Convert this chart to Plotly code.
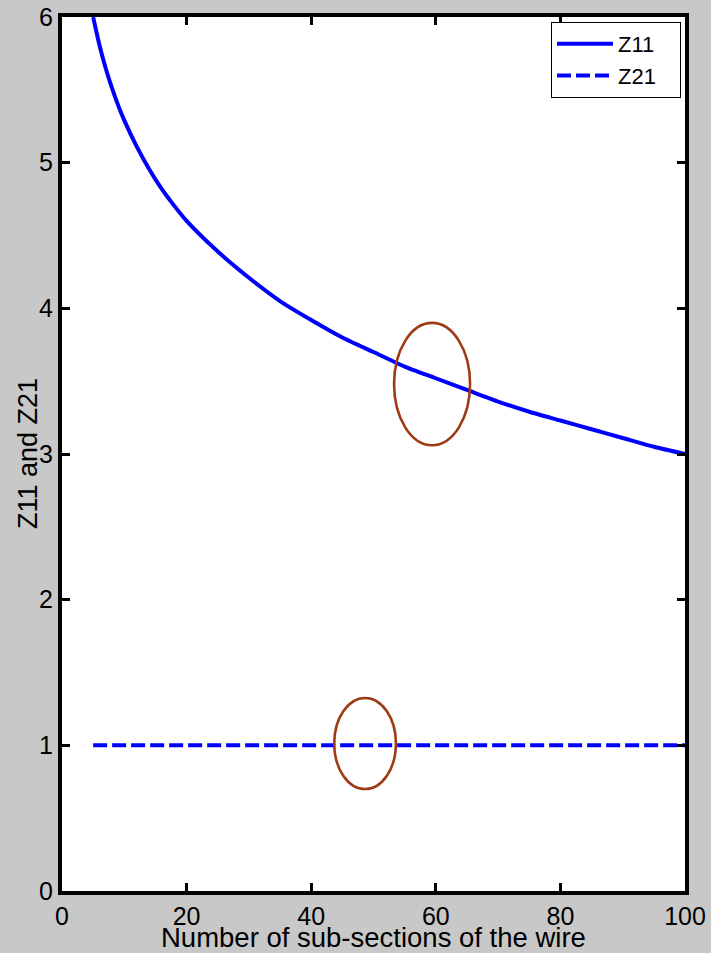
import plotly.graph_objects as go

# Data
n_sections = [5, 6, 7, 8, 9, 10, 12, 14, 16, 18, 20, 25, 30, 35, 40, 45, 50,
              55, 60, 65, 70, 75, 80, 85, 90, 95, 100]
z11 = [6.00, 5.81, 5.65, 5.515, 5.395, 5.29, 5.11, 4.955, 4.82, 4.705, 4.60, 4.39,
       4.21, 4.05, 3.92, 3.80, 3.70, 3.60, 3.52, 3.44, 3.36, 3.29, 3.23, 3.17,
       3.11, 3.05, 3.00]
z21_n = [5, 100]
z21 = [1.0, 1.0]

x_ticks = [0, 20, 40, 60, 80, 100]
y_ticks = [0, 1, 2, 3, 4, 5, 6]

FONT = "Liberation Sans, Arial, sans-serif"
BLUE = "#0000ff"
BROWN = "#9e3a14"

fig = go.Figure()
fig.add_trace(go.Scatter(x=n_sections, y=z11, mode="lines", name="Z11&nbsp;&nbsp;&nbsp;",
                         line=dict(color=BLUE, width=4, shape="spline", smoothing=0.6)))
fig.add_trace(go.Scatter(x=z21_n, y=z21, mode="lines", name="Z21&nbsp;&nbsp;&nbsp;",
                         line=dict(color=BLUE, width=4, dash="14px,5px")))

# highlight ellipses
fig.add_shape(type="circle", xref="x", yref="y", x0=53.3, x1=65.5, y0=3.06, y1=3.90,
              line=dict(color=BROWN, width=2.6))
fig.add_shape(type="circle", xref="x", yref="y", x0=43.7, x1=53.6, y0=0.70, y1=1.325,
              line=dict(color=BROWN, width=2.6))

axis_common = dict(showline=True, linewidth=4, linecolor="black", mirror="ticks",
                   ticks="inside", ticklen=8, tickwidth=3, tickcolor="black",
                   showgrid=False, zeroline=False, automargin=False,
                   tickfont=dict(family=FONT, size=25, color="black"))

fig.update_xaxes(range=[0, 100], tickvals=x_ticks, ticktext=[str(v) for v in x_ticks],
                 **axis_common)
fig.update_yaxes(range=[0, 6], tickvals=y_ticks, ticktext=[str(v) for v in y_ticks],
                 **axis_common)

fig.add_annotation(text="Number of sub-sections of the wire", xref="paper", yref="paper",
                   x=0.5, y=-(937 - 891) / 874, xanchor="center", yanchor="middle",
                   showarrow=False, font=dict(family=FONT, size=27.5, color="black"))
fig.add_annotation(text="Z11 and Z21", xref="paper", yref="paper",
                   x=-(62 - 28) / 623, y=0.5, xanchor="center", yanchor="middle",
                   textangle=-90, showarrow=False,
                   font=dict(family=FONT, size=27, color="black"))

fig.update_layout(
    width=711, height=953,
    margin=dict(l=62, r=26, t=17, b=62, autoexpand=False),
    paper_bgcolor="#c8c8c8", plot_bgcolor="white",
    showlegend=True,
    legend=dict(x=1 - 4 / 623, y=1 - 5 / 874, xanchor="right", yanchor="top",
                bgcolor="white", bordercolor="black", borderwidth=1,
                font=dict(family=FONT, size=22, color="black"),
                tracegroupgap=0, itemwidth=56),
)

fig.write_html("out.html",
               config={"displayModeBar": False},
               post_script="document.body.style.margin='0px';"
                           "document.body.style.overflow='hidden';")
